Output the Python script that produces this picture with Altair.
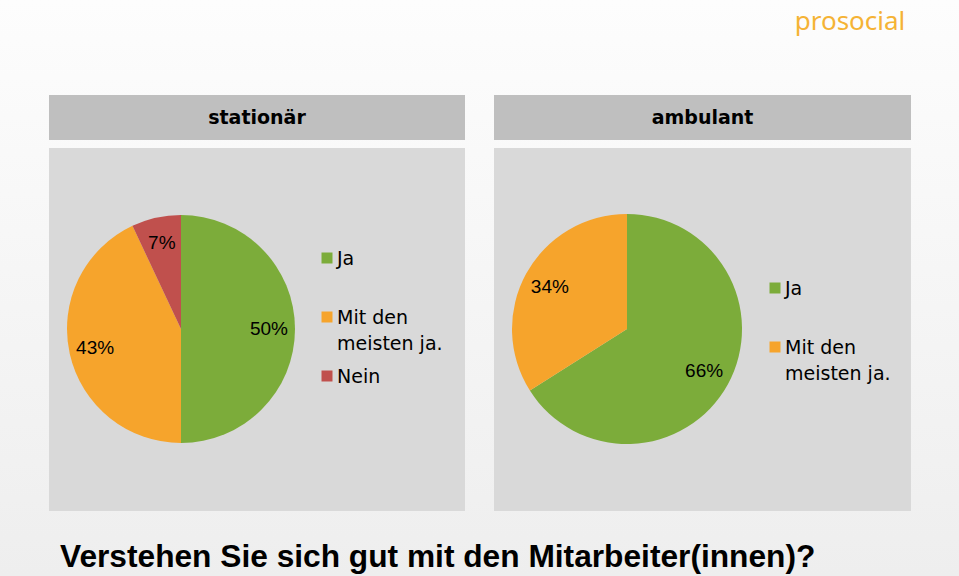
import altair as alt
import pandas as pd

W, H = 959, 576

# ---- data ----
categories = ["Ja", "Mit den meisten ja.", "Nein"]
cat_colors = ["#7cac3a", "#f6a42c", "#c0504d"]

stationaer_cats = ["Ja", "Mit den meisten ja.", "Nein"]
stationaer_vals = [50, 43, 7]

ambulant_cats = ["Ja", "Mit den meisten ja."]
ambulant_vals = [66, 34]

panel_titles = ["stationär", "ambulant"]
question = "Verstehen Sie sich gut mit den Mitarbeiter(innen)?"
logo_text = "prosocial"

# ---- layout (pixels) ----
panels = [
    dict(title=panel_titles[0], cats=stationaer_cats, vals=stationaer_vals,
         x1=49, x2=465, cx=181, cy=329, r=114, lx=327, ly=258),
    dict(title=panel_titles[1], cats=ambulant_cats, vals=ambulant_vals,
         x1=494, x2=911, cx=627, cy=329, r=115, lx=775, ly=288),
]
HEAD_Y1, HEAD_Y2 = 95, 140
BODY_Y1, BODY_Y2 = 148, 511
LEG_STEP = 59

label_font = "Liberation Sans"
legend_font = "DejaVu Sans"

color_scale = alt.Scale(domain=categories, range=cat_colors)

# background
bg = alt.Chart(pd.DataFrame({"a": [0]})).mark_rect(
    color=alt.LinearGradient(
        gradient="linear",
        stops=[alt.GradientStop(color="#fdfdfd", offset=0),
               alt.GradientStop(color="#eeeeee", offset=1)],
        x1=0, x2=0, y1=0, y2=1,
    )
).encode(x=alt.value(0), x2=alt.value(W), y=alt.value(0), y2=alt.value(H))

rect_df = pd.DataFrame({
    "x1": [p["x1"] for p in panels],
    "x2": [p["x2"] for p in panels],
    "title": [p["title"] for p in panels],
    "xc": [(p["x1"] + p["x2"]) / 2 for p in panels],
})

headers = alt.Chart(rect_df).mark_rect(color="#bfbfbf").encode(
    x=alt.X("x1:Q", scale=None, axis=None), x2="x2:Q",
    y=alt.value(HEAD_Y1), y2=alt.value(HEAD_Y2))

bodies = alt.Chart(rect_df).mark_rect(color="#d9d9d9").encode(
    x=alt.X("x1:Q", scale=None, axis=None), x2="x2:Q",
    y=alt.value(BODY_Y1), y2=alt.value(BODY_Y2))

head_text = alt.Chart(rect_df).mark_text(
    font="DejaVu Sans", fontWeight="bold", fontSize=19, color="#000000",
    align="center", baseline="middle"
).encode(x=alt.X("xc:Q", scale=None, axis=None), y=alt.value(118), text="title:N")

layers = [bg, headers, bodies, head_text]

for p in panels:
    df = pd.DataFrame({
        "cat": p["cats"],
        "value": p["vals"],
        "idx": list(range(len(p["cats"]))),
        "label": [f"{v}%" for v in p["vals"]],
    })
    arc = alt.Chart(df).mark_arc(outerRadius=p["r"]).encode(
        theta=alt.Theta("value:Q", stack=True),
        color=alt.Color("cat:N", scale=color_scale, legend=None),
        order=alt.Order("idx:Q"),
        x=alt.value(p["cx"]), y=alt.value(p["cy"]),
    )
    txt = alt.Chart(df).mark_text(
        radius=88, font=label_font, fontSize=19, color="#000000",
        align="center", baseline="middle"
    ).encode(
        theta=alt.Theta("value:Q", stack=True),
        detail="cat:N",
        order=alt.Order("idx:Q"),
        text="label:N",
        x=alt.value(p["cx"]), y=alt.value(p["cy"]),
    )
    leg_df = pd.DataFrame({
        "cat": p["cats"],
        "lab": [c.replace("den ", "den\n") for c in p["cats"]],
        "sx": [p["lx"]] * len(p["cats"]),
        "tx": [p["lx"] + 10] * len(p["cats"]),
        "sy": [p["ly"] + i * LEG_STEP for i in range(len(p["cats"]))],
        "ty": [p["ly"] + 7 + i * LEG_STEP for i in range(len(p["cats"]))],
    })
    leg_sq = alt.Chart(leg_df).mark_square(size=121, opacity=1).encode(
        x=alt.X("sx:Q", scale=None, axis=None),
        y=alt.Y("sy:Q", scale=None, axis=None),
        color=alt.Color("cat:N", scale=color_scale, legend=None),
    )
    leg_tx = alt.Chart(leg_df).mark_text(
        font=legend_font, fontSize=19, color="#000000", align="left",
        baseline="alphabetic", lineBreak="\n", lineHeight=26
    ).encode(
        x=alt.X("tx:Q", scale=None, axis=None),
        y=alt.Y("ty:Q", scale=None, axis=None),
        text="lab:N",
    )
    layers += [arc, txt, leg_sq, leg_tx]

misc_df = pd.DataFrame({"q": [question], "logo": [logo_text]})
title_mark = alt.Chart(misc_df).mark_text(
    font="Liberation Sans", fontWeight="bold", fontSize=31.7, color="#000000",
    align="left", baseline="alphabetic"
).encode(x=alt.value(60), y=alt.value(567), text="q:N")

logo_mark = alt.Chart(misc_df).mark_text(
    font="Noto Sans", fontSize=26, color="#f5b335",
    align="center", baseline="alphabetic"
).encode(x=alt.value(850), y=alt.value(30), text="logo:N")

layers += [title_mark, logo_mark]

chart = alt.layer(*layers).properties(
    width=W, height=H, autosize="none", padding=0
).configure_view(stroke=None)

chart.save("out.html", embed_options={"renderer": "svg", "actions": False})
